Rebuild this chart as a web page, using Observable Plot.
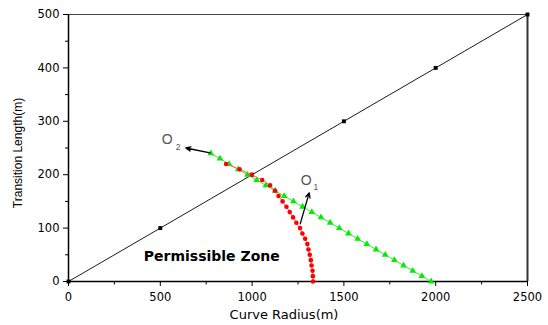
<!DOCTYPE html>
<html>
<head>
<meta charset="utf-8">
<script src="https://cdn.jsdelivr.net/npm/d3@7"></script>
<script src="https://cdn.jsdelivr.net/npm/@observablehq/plot@0.6"></script>
<style>
  html, body { margin: 0; padding: 0; background: #fff; }
  #chart { width: 548px; height: 325px; }
</style>
</head>
<body>
<div id="chart"></div>
<script>
// ---- data ----
const xDomain = [0, 2500];
const yDomain = [0, 500];
const xMajor = [0, 500, 1000, 1500, 2000, 2500];
const xMinor = [250, 750, 1250, 1750, 2250];
const yMajor = [0, 100, 200, 300, 400, 500];
const yMinor = [50, 150, 250, 350, 450];

const xTitle = "Curve Radius(m)";
const yTitle = "Transition Length(m)";

// black reference line with square markers
const diagR = [0, 500, 1000, 1500, 2000, 2500];
const diagL = [0, 100, 200, 300, 400, 500];

// red series (O1)
const redR = [858, 932, 998, 1055, 1098, 1125, 1144, 1166, 1187, 1205, 1223, 1241, 1261, 1274, 1289, 1301, 1307, 1314, 1320, 1324, 1329, 1331, 1332];
const redL = [220, 210, 200, 190, 180, 170, 160, 150, 140, 130, 120, 110, 100, 90, 80, 70, 60, 50, 40, 30, 20, 10, 0];

// green series (O2)
const greenR = [775, 825, 875, 925, 975, 1025, 1075, 1125, 1175, 1225, 1275, 1325, 1375, 1425, 1475, 1525, 1575, 1625, 1675, 1725, 1775, 1825, 1875, 1925, 1975];
const greenL = [240, 230, 220, 210, 200, 190, 180, 170, 160, 150, 140, 130, 120, 110, 100, 90, 80, 70, 60, 50, 40, 30, 20, 10, 0];

// annotation arrows
const arrowR1 = [771, 1262];
const arrowL1 = [241, 108];
const arrowR2 = [639, 1311];
const arrowL2 = [250, 166];

// annotation labels
const labelO = ["O", "O"];
const labelOR = [537, 1294];
const labelOL = [266, 189];
const labelSub = ["2", "1"];
const labelSubR = [597, 1347];
const labelSubL = [251, 177];

const zoneText = ["Permissible Zone"];
const zoneR = [410];
const zoneL = [46];

// ---- build tables ----
const diag = diagR.map((r, i) => ({r, l: diagL[i]}));
const red = redR.map((r, i) => ({r, l: redL[i]}));
const green = greenR.map((r, i) => ({r, l: greenL[i]}));
const arrows = arrowR1.map((r, i) => ({x1: r, y1: arrowL1[i], x2: arrowR2[i], y2: arrowL2[i]}));
const oLabels = labelO.map((t, i) => ({t, r: labelOR[i], l: labelOL[i]}));
const subLabels = labelSub.map((t, i) => ({t, r: labelSubR[i], l: labelSubL[i]}));
const zone = zoneText.map((t, i) => ({t, r: zoneR[i], l: zoneL[i]}));

const chart = Plot.plot({
  width: 548,
  height: 325,
  marginLeft: 68,
  marginRight: 21,
  marginTop: 14,
  marginBottom: 44,
  x: {domain: xDomain, label: null},
  y: {domain: yDomain, label: null},
  style: {fontFamily: "DejaVu Sans", fontSize: "11.5px", color: "#000", background: "#fff", overflow: "visible"},
  marks: [
    Plot.axisX({ticks: xMajor, tickSize: 5, tickPadding: 6, label: null, tickFormat: d => String(d), stroke: "#000", fontSize: 11.5}),
    Plot.axisX({ticks: xMinor, tickSize: 3.5, label: null, tickFormat: () => "", stroke: "#000"}),
    Plot.axisY({ticks: yMajor, tickSize: 5, tickPadding: 4, label: null, tickFormat: d => String(d), stroke: "#000", fontSize: 11.5}),
    Plot.axisY({ticks: yMinor, tickSize: 3, label: null, tickFormat: () => "", stroke: "#000"}),
    Plot.ruleY([yDomain[1]], {stroke: "#444", strokeWidth: 1}),
    Plot.ruleX([xDomain[1]], {stroke: "#333", strokeWidth: 2}),
    Plot.ruleX([xDomain[0]], {stroke: "#000", strokeWidth: 1.5}),
    Plot.ruleY([yDomain[0]], {stroke: "#000", strokeWidth: 1.5}),
    // diagonal line
    Plot.line(diag, {x: "r", y: "l", stroke: "#000", strokeWidth: 0.9}),
    Plot.dot(diag, {x: "r", y: "l", symbol: "square", r: 2.2, fill: "#000", stroke: "none"}),
    // green series
    Plot.line(green, {x: "r", y: "l", stroke: "#33ee33", strokeWidth: 1}),
    Plot.dot(green, {x: "r", y: "l", symbol: "triangle", r: 2.5, fill: "#00ee00", stroke: "none"}),
    // red series
    Plot.line(red, {x: "r", y: "l", stroke: "#ff6666", strokeWidth: 1}),
    Plot.dot(red, {x: "r", y: "l", r: 2.3, fill: "#ff0000", stroke: "none"}),
    // arrows
    Plot.arrow(arrows, {x1: "x1", y1: "y1", x2: "x2", y2: "y2", stroke: "#000", strokeWidth: 1.3, headLength: 6, headAngle: 50}),
    // labels
    Plot.text(oLabels, {x: "r", y: "l", text: "t", fontFamily: "Liberation Sans", fontSize: 14, fill: "#555", textAnchor: "middle", lineAnchor: "middle"}),
    Plot.text(subLabels, {x: "r", y: "l", text: "t", fontFamily: "Liberation Sans", fontSize: 8.5, fill: "#555", textAnchor: "middle", lineAnchor: "middle"}),
    Plot.text(zone, {x: "r", y: "l", text: "t", fontFamily: "DejaVu Sans", fontWeight: "bold", fontSize: 14, fill: "#000", textAnchor: "start", lineAnchor: "middle"}),
    // axis titles
    Plot.text([xTitle], {text: d => d, frameAnchor: "bottom", dx: -14, dy: 33, fontFamily: "DejaVu Sans", fontSize: 13, fill: "#000", textAnchor: "middle", lineAnchor: "middle"}),
    Plot.text([yTitle], {text: d => d, frameAnchor: "left", dx: -50, dy: 5, rotate: -90, fontFamily: "Liberation Sans", fontSize: 12, fill: "#000", textAnchor: "middle", lineAnchor: "middle"})
  ]
});
document.getElementById("chart").appendChild(chart);
</script>
</body>
</html>
